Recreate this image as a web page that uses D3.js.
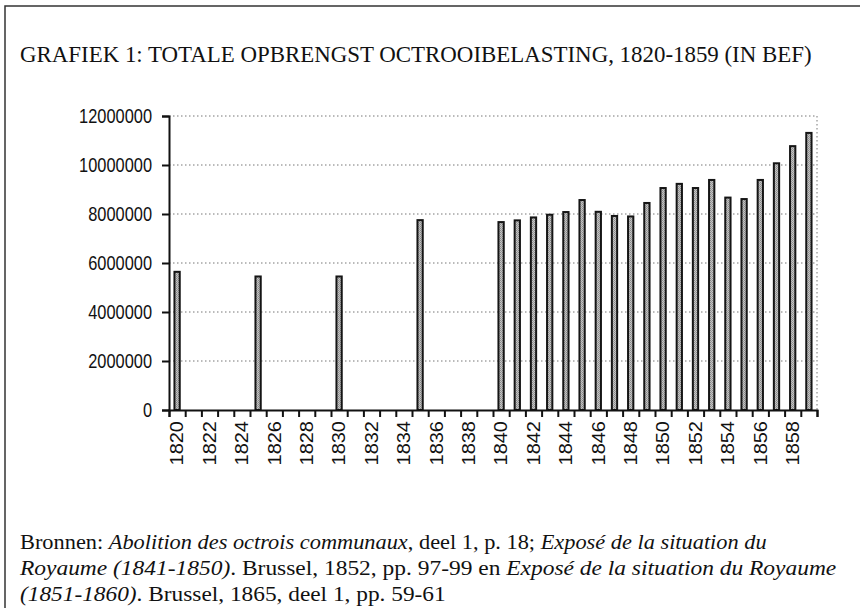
<!DOCTYPE html>
<html>
<head>
<meta charset="utf-8">
<script src="https://cdn.jsdelivr.net/npm/d3@7"></script>
<style>
  body { margin: 0; background: #fff; }
  svg { display: block; }
</style>
</head>
<body>
<script>
// categories: every year 1820-1859
const years = [1820, 1821, 1822, 1823, 1824, 1825, 1826, 1827, 1828, 1829,
  1830, 1831, 1832, 1833, 1834, 1835, 1836, 1837, 1838, 1839,
  1840, 1841, 1842, 1843, 1844, 1845, 1846, 1847, 1848, 1849,
  1850, 1851, 1852, 1853, 1854, 1855, 1856, 1857, 1858, 1859];

// total octroi revenue (BEF), null = no figure
const revenue = [5640000, null, null, null, null, 5450000, null, null, null, null,
  5450000, null, null, null, null, 7750000, null, null, null, null,
  7670000, 7740000, 7860000, 7970000, 8080000, 8570000, 8090000, 7920000, 7900000, 8450000,
  9060000, 9230000, 9060000, 9390000, 8670000, 8610000, 9390000, 10070000, 10770000, 11310000];

const yTicks = [0, 2000000, 4000000, 6000000, 8000000, 10000000, 12000000];
const xLabelYears = years.filter(d => d % 2 === 0);

const titleText = 'GRAFIEK 1: TOTALE OPBRENGST OCTROOIBELASTING, 1820-1859 (IN BEF)';
const sourceLines = [
  [['Bronnen: ', false], ['Abolition des octrois communaux', true], [', deel 1, p. 18; ', false], ['Exposé de la situation du', true]],
  [['Royaume (1841-1850)', true], ['. Brussel, 1852, pp. 97-99 en ', false], ['Exposé de la situation du Royaume', true]],
  [['(1851-1860)', true], ['. Brussel, 1865, deel 1, pp. 59-61', false]]
];

const width = 860, height = 608;
const plot = { left: 169, right: 817, top: 116, bottom: 410 };

const svg = d3.select('body').append('svg')
  .attr('width', width)
  .attr('height', height);

// halftone-ish fill for the bars
let pat = svg.append('defs').append('pattern')
  .attr('id', 'halftone')
  .attr('width', 2).attr('height', 2)
  .attr('patternUnits', 'userSpaceOnUse');
pat.append('rect').attr('width', 2).attr('height', 2).attr('fill', '#c4c4c4');
pat.append('rect').attr('width', 1).attr('height', 1).attr('fill', '#8a8a8a');
pat.append('rect').attr('x', 1).attr('y', 1).attr('width', 1).attr('height', 1).attr('fill', '#9a9a9a');

// page frame (left and top edge only)
svg.append('path')
  .attr('d', `M5,${height} L5,6 L${width},6`)
  .attr('fill', 'none')
  .attr('stroke', '#333')
  .attr('stroke-width', 1.5);

// fit a line of text to a measured width
const fitText = (sel, x, y, targetWidth) => {
  let w = sel.node().getBBox().width;
  sel.attr('transform', `translate(${x},${y}) scale(${targetWidth / w},1)`);
};

let title = svg.append('text')
  .attr('font-family', '"Liberation Serif", serif')
  .attr('font-size', 23)
  .attr('fill', '#111')
  .text(titleText);
fitText(title, 20, 62, 792);

let x = d3.scaleBand()
  .domain(years)
  .range([plot.left, plot.right])
  .paddingInner(0.55)
  .paddingOuter(0.275);

let xEdge = d3.scaleLinear()
  .domain([1820, 1860])
  .range([plot.left, plot.right]);

let y = d3.scaleLinear()
  .domain([0, 12000000])
  .range([plot.bottom, plot.top]);

// dotted gridlines
svg.append('g')
  .selectAll('line')
  .data(yTicks.filter(d => d > 0))
  .enter().append('line')
  .attr('x1', plot.left)
  .attr('x2', plot.right)
  .attr('y1', d => y(d))
  .attr('y2', d => y(d))
  .attr('stroke', '#777')
  .attr('stroke-width', 1)
  .attr('stroke-dasharray', '1.5,2.5');

// dotted right edge of plot area
svg.append('line')
  .attr('x1', plot.right).attr('x2', plot.right)
  .attr('y1', plot.top).attr('y2', plot.bottom)
  .attr('stroke', '#777')
  .attr('stroke-dasharray', '1.5,2.5');

// bars
svg.append('g')
  .selectAll('rect')
  .data(years.map((d, i) => ({ year: d, value: revenue[i] })).filter(d => d.value))
  .enter().append('rect')
  .attr('x', d => x(d.year) + 1)
  .attr('width', x.bandwidth() - 2)
  .attr('y', d => y(d.value))
  .attr('height', d => y(0) - y(d.value))
  .attr('fill', 'url(#halftone)')
  .attr('stroke', '#151515')
  .attr('stroke-width', 2);

// y axis
let yAxis = svg.append('g')
  .attr('transform', `translate(${plot.left},0)`)
  .call(d3.axisLeft(y).tickValues(yTicks).tickFormat(d3.format('d')).tickSize(7).tickPadding(10));
yAxis.select('.domain').attr('stroke', '#111').attr('stroke-width', 2);
yAxis.selectAll('.tick line').attr('stroke', '#111').attr('stroke-width', 2);
yAxis.selectAll('.tick text')
  .attr('font-family', '"Liberation Sans", Arial, sans-serif')
  .attr('font-size', 20)
  .attr('fill', '#111')
  .attr('x', -17 / 0.82)
  .attr('transform', 'scale(0.82,1)');

// x axis: ticks on year boundaries
let xAxis = svg.append('g')
  .attr('transform', `translate(0,${plot.bottom})`)
  .call(d3.axisBottom(xEdge).tickValues(d3.range(1820, 1861)).tickFormat('').tickSize(7));
xAxis.select('.domain').attr('stroke', '#111').attr('stroke-width', 2);
xAxis.selectAll('.tick line').attr('stroke', '#111').attr('stroke-width', 2);

// x labels, every second year, rotated
svg.append('g')
  .selectAll('text')
  .data(xLabelYears)
  .enter().append('text')
  .attr('transform', d => `translate(${x(d) + x.bandwidth() / 2},421) scale(0.9,1) rotate(-90)`)
  .attr('text-anchor', 'end')
  .attr('dy', '0.35em')
  .attr('font-family', '"Liberation Sans", Arial, sans-serif')
  .attr('font-size', 20)
  .attr('fill', '#111')
  .text(d => d);

// source note
const lineY = [549, 575, 601];
const lineW = [747, 818, 426];
sourceLines.forEach((parts, i) => {
  let t = svg.append('text')
    .attr('font-family', '"Liberation Serif", serif')
    .attr('font-size', 20)
    .attr('fill', '#111');
  parts.forEach(p => {
    t.append('tspan')
      .attr('font-style', p[1] ? 'italic' : 'normal')
      .text(p[0]);
  });
  fitText(t, 20, lineY[i], lineW[i]);
});
</script>
</body>
</html>
